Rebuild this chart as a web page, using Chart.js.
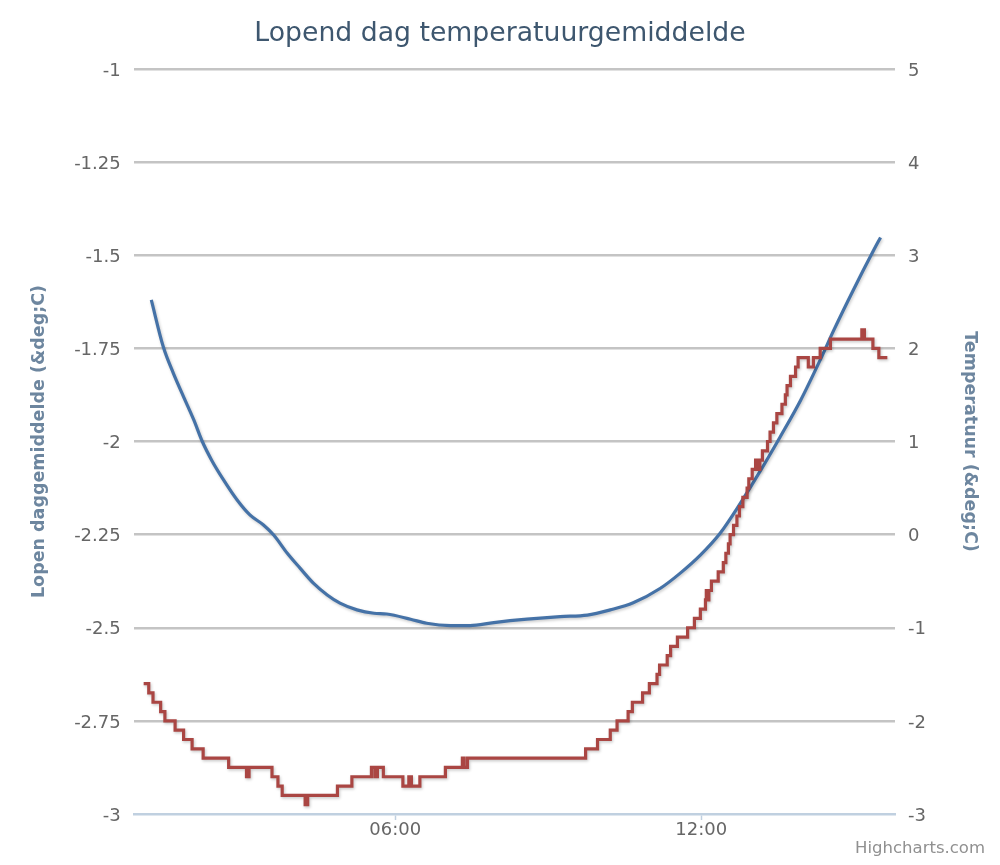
<!DOCTYPE html>
<html>
<head>
<meta charset="utf-8">
<script src="https://cdn.jsdelivr.net/npm/chart.js@4/dist/chart.umd.min.js"></script>
<style>
  html, body { margin: 0; padding: 0; background: #ffffff; }
  #wrap { position: relative; width: 1000px; height: 865px; }
  #credits { position: absolute; right: 15px; top: 838px; font-family: 'DejaVu Sans', sans-serif;
             font-size: 16.5px; color: #909090; white-space: nowrap; }
</style>
</head>
<body>
<div id="wrap">
  <canvas id="c" width="1000" height="865"></canvas>
  <div id="credits">Highcharts.com</div>
</div>
<script>
// ---- Data (time in minutes after midnight) ----
const chartTitle = 'Lopend dag temperatuurgemiddelde';
const meanAxisTitle = 'Lopen daggemiddelde (&deg;C)';
const tempAxisTitle = 'Temperatuur (&deg;C)';

const xTickMinutes = [360, 720];
const xTickLabels = ['06:00', '12:00'];

// Running daily mean (left axis, blue)
const meanMinutes = [73, 87, 99, 111, 123, 133, 144, 158, 174, 189, 205, 217, 233, 248, 264, 280,
  295, 315, 335, 350, 378, 397, 425, 448, 476, 515, 554, 586, 613, 640, 672, 695, 719, 742,
  766, 789, 813, 837, 860, 876, 899, 923, 931];
const meanValues = [-1.620, -1.745, -1.817, -1.880, -1.942, -2.000, -2.050, -2.103, -2.157, -2.197,
  -2.224, -2.251, -2.300, -2.340, -2.381, -2.412, -2.434, -2.452, -2.461, -2.463, -2.477, -2.488,
  -2.494, -2.494, -2.486, -2.477, -2.470, -2.466, -2.452, -2.433, -2.394, -2.354, -2.305, -2.247,
  -2.166, -2.081, -1.987, -1.889, -1.781, -1.701, -1.593, -1.486, -1.452];

// Temperature (right axis, red) – value changes
const tempMinutes = [64, 70, 75, 84, 89, 101, 111, 121, 134, 164, 185, 188, 215, 222, 227, 254, 257,
  292, 309, 332, 336, 339, 346, 369, 376, 379, 389, 419, 439, 441, 445, 584, 598, 613, 621, 634,
  639, 651, 659, 668, 671, 680, 684, 692, 704, 712, 719, 725, 726, 728, 729, 732, 740, 746, 749,
  752, 754, 758, 762, 765, 769, 774, 776, 780, 784, 787, 789, 792, 798, 801, 805, 809, 815, 819,
  821, 825, 831, 834, 846, 852, 860, 872, 909, 912, 922, 929, 939];
const tempValues = [-1.6, -1.7, -1.8, -1.9, -2.0, -2.1, -2.2, -2.3, -2.4, -2.5, -2.6, -2.5, -2.6,
  -2.7, -2.8, -2.9, -2.8, -2.7, -2.6, -2.5, -2.6, -2.5, -2.6, -2.7, -2.6, -2.7, -2.6, -2.5, -2.4,
  -2.5, -2.4, -2.3, -2.2, -2.1, -2.0, -1.9, -1.8, -1.7, -1.6, -1.5, -1.4, -1.3, -1.2, -1.1, -1.0,
  -0.9, -0.8, -0.7, -0.6, -0.7, -0.6, -0.5, -0.4, -0.3, -0.2, -0.1, 0.0, 0.1, 0.2, 0.3, 0.4, 0.5,
  0.6, 0.7, 0.8, 0.7, 0.8, 0.9, 1.0, 1.1, 1.2, 1.3, 1.4, 1.5, 1.6, 1.7, 1.8, 1.9, 1.8, 1.9, 2.0,
  2.1, 2.2, 2.1, 2.0, 1.9, 1.9];

// ---- Chart ----
const FONT = 'DejaVu Sans';
Chart.defaults.font.family = FONT;

const meanData = meanMinutes.map((m, i) => ({ x: m, y: meanValues[i] }));
const tempData = tempMinutes.map((m, i) => ({ x: m, y: tempValues[i] }));

const shadowPlugin = {
  id: 'lineShadow',
  beforeDatasetDraw(chart) {
    const ctx = chart.ctx;
    ctx.save();
    ctx.shadowColor = 'rgba(0,0,0,0.22)';
    ctx.shadowBlur = 3;
    ctx.shadowOffsetX = 1;
    ctx.shadowOffsetY = 1.5;
  },
  afterDatasetDraw(chart) {
    chart.ctx.restore();
  }
};

new Chart(document.getElementById('c'), {
  type: 'line',
  data: {
    datasets: [
      {
        label: 'Lopen daggemiddelde',
        data: meanData,
        yAxisID: 'yMean',
        borderColor: '#4572A7',
        borderWidth: 3.2,
        pointRadius: 0,
        cubicInterpolationMode: 'monotone',
        fill: false,
        order: 1
      },
      {
        label: 'Temperatuur',
        data: tempData,
        yAxisID: 'yTemp',
        borderColor: '#AA4643',
        borderWidth: 3.2,
        pointRadius: 0,
        stepped: true,
        fill: false,
        order: 0
      }
    ]
  },
  plugins: [shadowPlugin],
  options: {
    responsive: false,
    animation: false,
    layout: { padding: 0 },
    plugins: {
      legend: { display: false },
      tooltip: { enabled: false },
      title: {
        display: true,
        text: chartTitle,
        color: '#3E576F',
        font: { family: FONT, size: 26.7, weight: 'normal', lineHeight: 1.2 },
        padding: { top: 18, bottom: 19 }
      }
    },
    scales: {
      x: {
        type: 'linear',
        min: 53,
        max: 948,
        afterBuildTicks: s => { s.ticks = xTickMinutes.map(v => ({ value: v })); },
        afterFit: s => { s.height = 51; },
        ticks: {
          autoSkip: false,
          maxRotation: 0,
          padding: 0,
          color: '#666666',
          font: { family: FONT, size: 18 },
          callback: v => xTickLabels[xTickMinutes.indexOf(v)]
        },
        grid: {
          drawOnChartArea: false,
          drawTicks: true,
          tickLength: 6,
          tickColor: '#C0D0E0',
          tickWidth: 1.5
        },
        border: { display: true, color: '#C0D0E0', width: 2.5 }
      },
      yMean: {
        type: 'linear',
        position: 'left',
        min: -3,
        max: -1,
        afterFit: s => { s.width = 134.3; },
        ticks: {
          stepSize: 0.25,
          padding: 13.6,
          labelOffset: 2,
          color: '#666666',
          font: { family: FONT, size: 18 },
          callback: v => String(v)
        },
        grid: {
          drawTicks: false,
          lineWidth: 2.5,
          color: c => (c.tick && c.tick.value === -3) ? 'rgba(0,0,0,0)' : '#C4C4C4'
        },
        border: { display: false },
        title: {
          display: true,
          text: meanAxisTitle,
          color: '#6D869F',
          font: { family: FONT, size: 17.5, weight: 'bold', lineHeight: 1.2 },
          padding: { top: 28.5, bottom: 0 }
        }
      },
      yTemp: {
        type: 'linear',
        position: 'right',
        min: -3,
        max: 5,
        afterFit: s => { s.width = 105; },
        ticks: {
          stepSize: 1,
          padding: 13,
          labelOffset: 2,
          color: '#666666',
          font: { family: FONT, size: 18 },
          callback: v => String(v)
        },
        grid: { drawOnChartArea: false, drawTicks: false },
        border: { display: false },
        title: {
          display: true,
          text: tempAxisTitle,
          color: '#6D869F',
          font: { family: FONT, size: 17.5, weight: 'bold', lineHeight: 1.2 },
          padding: { top: 19.5, bottom: 0 }
        }
      }
    }
  }
});
</script>
</body>
</html>
